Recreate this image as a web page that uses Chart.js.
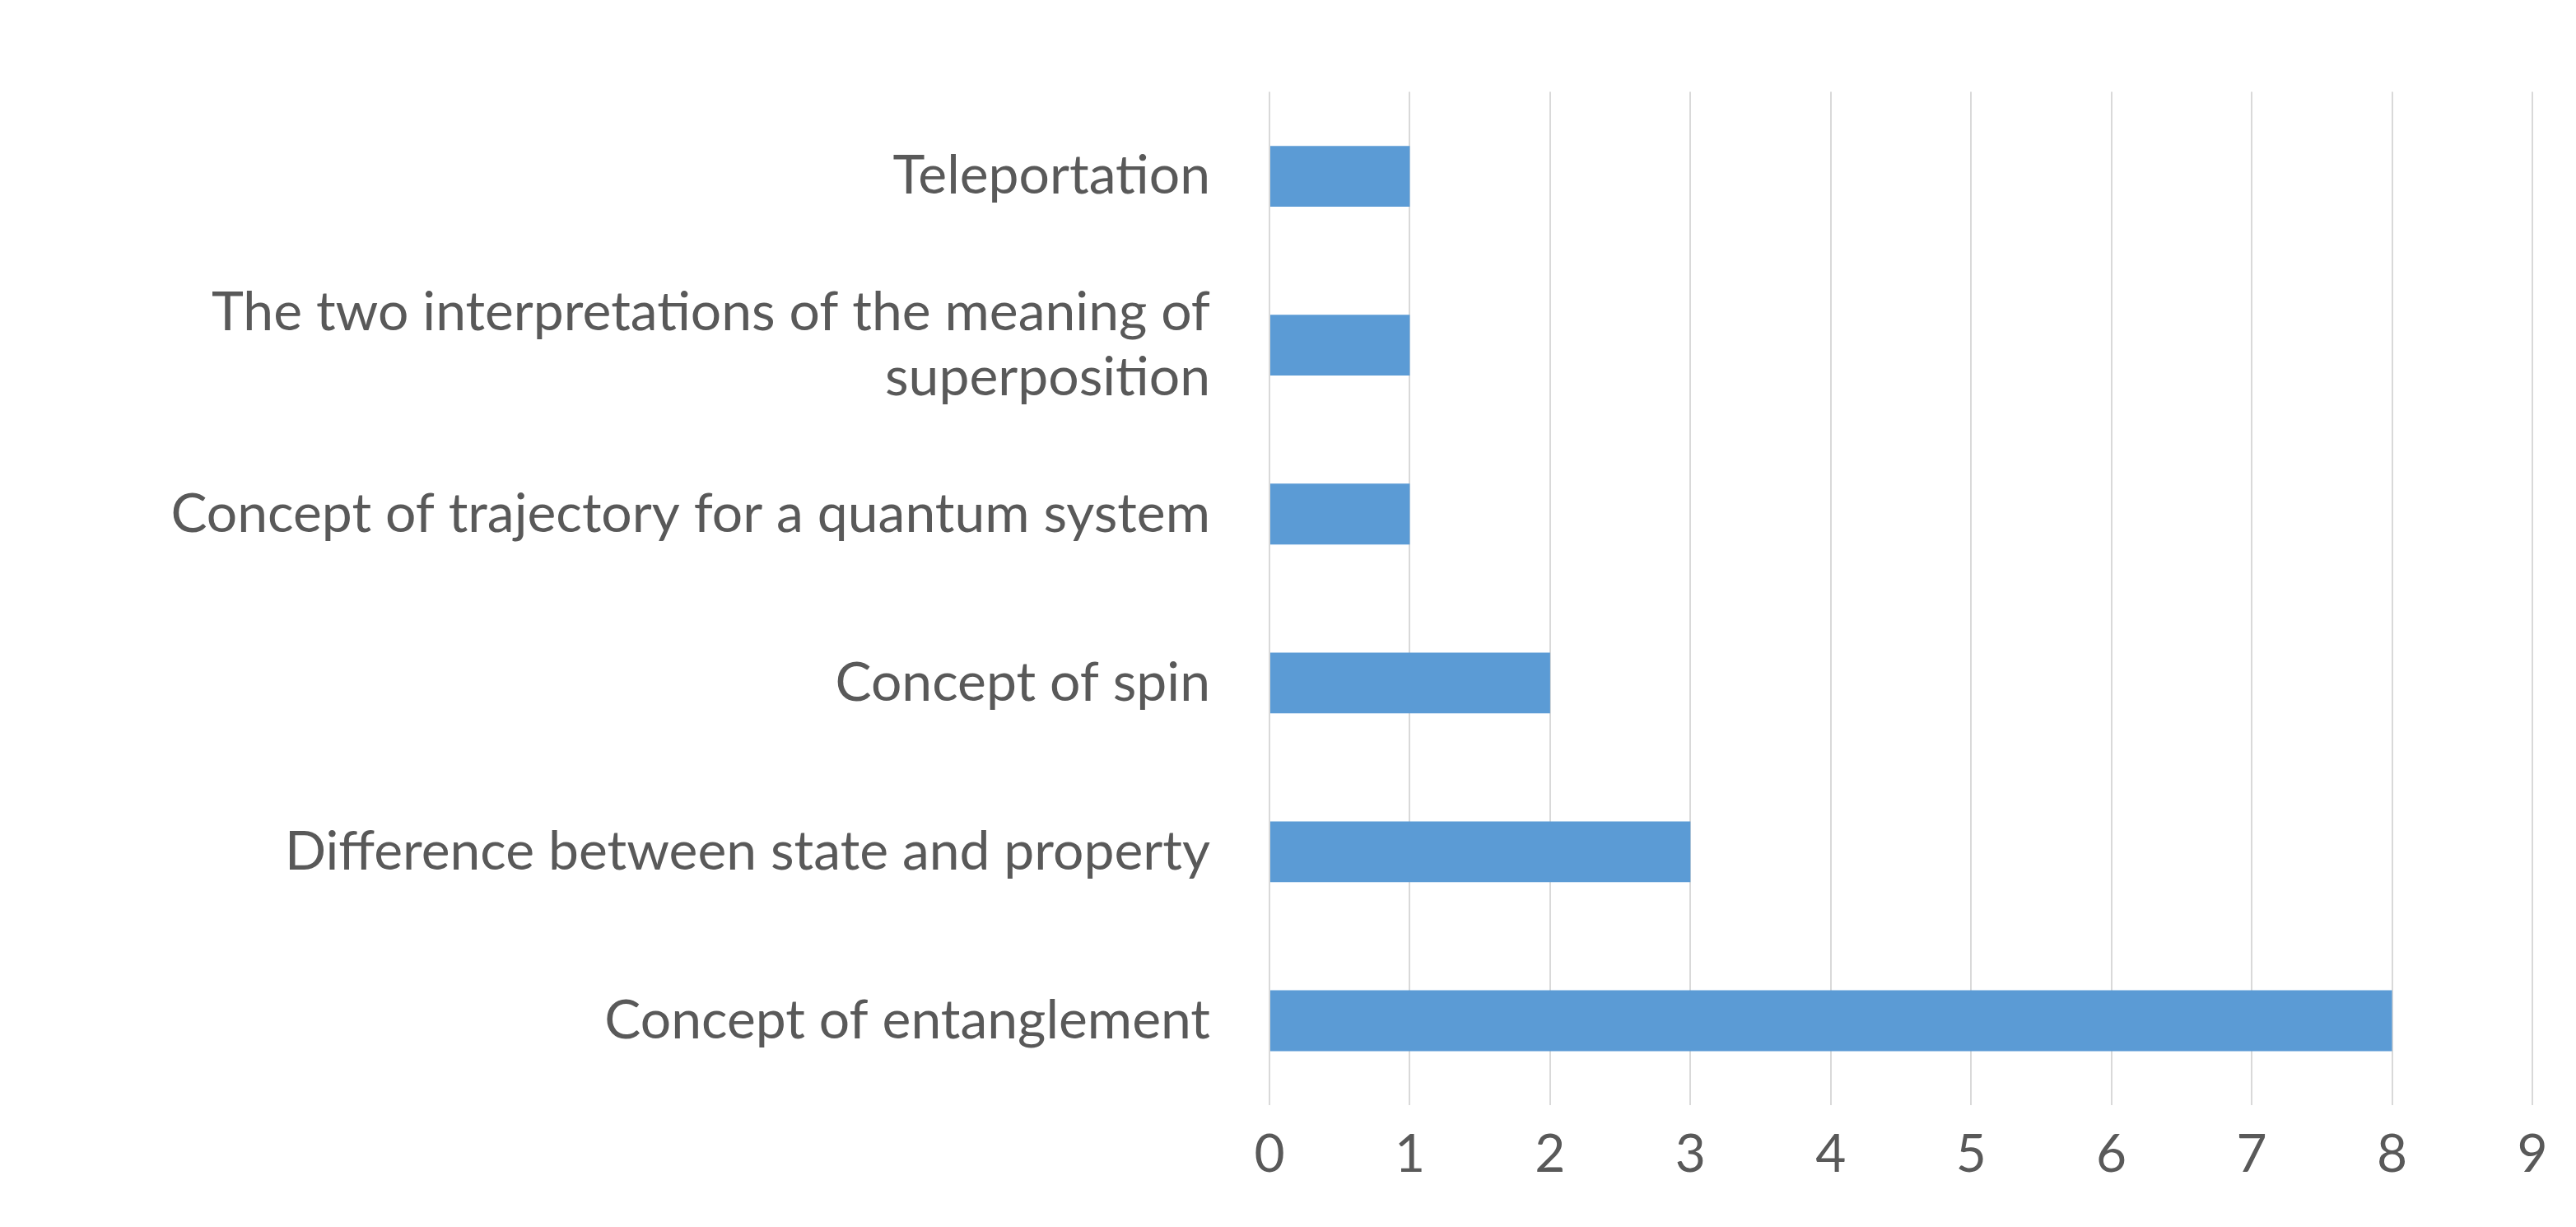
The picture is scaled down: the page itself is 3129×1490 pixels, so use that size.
<!DOCTYPE html>
<html>
<head>
<meta charset="utf-8">
<script src="https://cdn.jsdelivr.net/npm/chart.js@4/dist/chart.umd.min.js"></script>
<style>
  html, body { margin: 0; padding: 0; background: #fff; }
  #wrap { width: 3129px; height: 1490px; }
</style>
</head>
<body>
<div id="wrap"><canvas id="chart"></canvas></div>
<script>
const categories = [
  'Teleportation',
  ['The two interpretations of the meaning of', 'superposition'],
  'Concept of trajectory for a quantum system',
  'Concept of spin',
  'Difference between state and property',
  'Concept of entanglement'
];
const counts = [1, 1, 1, 2, 3, 8];

const ctx = document.getElementById('chart').getContext('2d');
new Chart(ctx, {
  type: 'bar',
  data: {
    labels: categories,
    datasets: [{
      data: counts,
      backgroundColor: '#5b9bd5',
      categoryPercentage: 1,
      barPercentage: 0.36
    }]
  },
  options: {
    indexAxis: 'y',
    responsive: true,
    maintainAspectRatio: false,
    animation: false,
    layout: { padding: { top: 30, right: 53, bottom: 0, left: 0 } },
    plugins: { legend: { display: false }, tooltip: { enabled: false } },
    scales: {
      x: {
        min: 0,
        max: 9,
        ticks: { stepSize: 1, color: '#595959', font: { family: 'Lato', size: 64 }, padding: 22 },
        grid: { color: '#d9d9d9', lineWidth: 2, drawTicks: false },
        border: { display: false },
        afterFit: function(axis) { axis.height = 148; }
      },
      y: {
        ticks: { color: '#595959', font: { family: 'Lato', size: 66 }, padding: 72 },
        grid: { display: false, drawTicks: false },
        border: { display: false },
        afterFit: function(axis) { axis.width = 1542; }
      }
    }
  }
});
</script>
</body>
</html>
